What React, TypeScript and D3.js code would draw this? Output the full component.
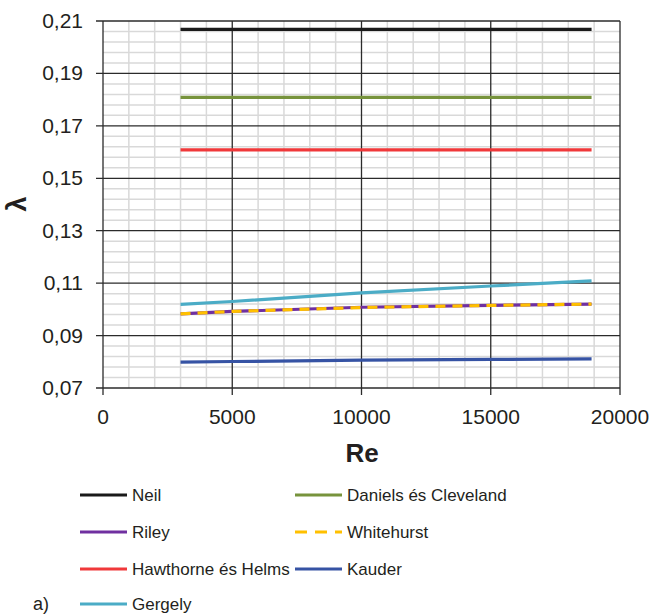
import React from 'react';
import * as d3 from 'd3';

// Re values
const reValues = [3000, 5000, 10000, 15000, 18900];

const neil = [0.2068, 0.2068, 0.2068, 0.2068, 0.2068];
const daniels = [0.1809, 0.1809, 0.1809, 0.1809, 0.1809];
const riley = [0.0983, 0.0992, 0.1008, 0.1015, 0.102];
const whitehurst = [0.0983, 0.0992, 0.1007, 0.1015, 0.102];
const hawthorne = [0.1608, 0.1608, 0.1608, 0.1608, 0.1608];
const kauder = [0.0799, 0.0801, 0.0806, 0.0809, 0.0811];
const gergely = [0.1019, 0.103, 0.1063, 0.1089, 0.1109];

const xTicks = [0, 5000, 10000, 15000, 20000];
const yTicks = [0.07, 0.09, 0.11, 0.13, 0.15, 0.17, 0.19, 0.21];

const series = [
  { name: 'Neil', values: neil, color: '#1a1a1a', dash: null },
  { name: 'Daniels és Cleveland', values: daniels, color: '#77933c', dash: null },
  { name: 'Riley', values: riley, color: '#7030a0', dash: null },
  { name: 'Whitehurst', values: whitehurst, color: '#ffc000', dash: '10,7' },
  { name: 'Hawthorne és Helms', values: hawthorne, color: '#f0383a', dash: null },
  { name: 'Kauder', values: kauder, color: '#3653a4', dash: null },
  { name: 'Gergely', values: gergely, color: '#4bacc6', dash: null },
];

const W = 654;
const H = 615;
const left = 103;
const right = 620;
const top = 21;
const bottom = 388;
const font = '"Liberation Sans", Arial, sans-serif';

export default function App() {
  const x = d3.scaleLinear().domain([0, 20000]).range([left, right]);
  const y = d3.scaleLinear().domain([0.07, 0.21]).range([bottom, top]);

  const fmt = (v: number) => v.toFixed(2).replace('.', ',');

  const minorX = d3.range(0, 20001, 1000).filter((v) => v % 5000 !== 0);
  const minorY = d3.range(0, 36).map((i) => 0.07 + i * 0.004).filter((v, i) => i % 5 !== 0 && v < 0.2101);

  const line = (vals: number[]) =>
    d3.line<number>().x((_, i) => x(reValues[i])).y((v) => y(v))(vals) || '';

  const legendRows = [
    [series[0], series[1]],
    [series[2], series[3]],
    [series[4], series[5]],
    [series[6]],
  ];
  const rowY = [495, 532, 569, 604];
  const colX = [80, 295];

  return (
    <div style={{ position: 'absolute', left: 0, top: 0 }}>
      <svg width={W} height={H} style={{ display: 'block', background: '#fff' }} fontFamily={font}>
        {/* minor grid */}
        {minorX.map((v) => (
          <line key={'mx' + v} x1={x(v)} x2={x(v)} y1={top} y2={bottom} stroke="#d9d9d9" strokeWidth={1.5} />
        ))}
        {minorY.map((v, i) => (
          <line key={'my' + i} x1={left} x2={right} y1={y(v)} y2={y(v)} stroke="#d9d9d9" strokeWidth={1.5} />
        ))}
        {/* major grid */}
        {xTicks.map((v) => (
          <line key={'Mx' + v} x1={x(v)} x2={x(v)} y1={top} y2={bottom + 7} stroke="#2b2b2b" strokeWidth={1.3} />
        ))}
        {yTicks.map((v) => (
          <line key={'My' + v} x1={left - 7} x2={right} y1={y(v)} y2={y(v)} stroke="#2b2b2b" strokeWidth={1.3} />
        ))}
        {/* tick labels */}
        {yTicks.map((v) => (
          <text key={'yl' + v} x={83} y={y(v) + 7} textAnchor="end" fontSize={21} fill="#231f20">
            {fmt(v)}
          </text>
        ))}
        {xTicks.map((v) => (
          <text key={'xl' + v} x={x(v)} y={424} textAnchor="middle" fontSize={21} fill="#231f20">
            {v}
          </text>
        ))}
        {/* axis titles */}
        <text x={362} y={462} textAnchor="middle" fontSize={26} fontWeight="bold" fill="#231f20">
          Re
        </text>
        <text
          transform="translate(26,204) rotate(-90)"
          textAnchor="middle"
          fontSize={27}
          fontWeight="bold"
          fill="#231f20"
        >
          λ
        </text>
        {/* series */}
        {series.map((s) => (
          <path
            key={s.name}
            d={line(s.values)}
            fill="none"
            stroke={s.color}
            strokeWidth={3.2}
            strokeDasharray={s.dash || undefined}
          />
        ))}
        {/* legend */}
        {legendRows.map((row, r) =>
          row.map((s, c) => (
            <g key={s.name}>
              <line
                x1={colX[c]}
                x2={colX[c] + 47}
                y1={rowY[r]}
                y2={rowY[r]}
                stroke={s.color}
                strokeWidth={3.2}
                strokeDasharray={s.dash ? '12,8' : undefined}
              />
              <text x={colX[c] + 52} y={rowY[r] + 6} fontSize={17} fill="#231f20">
                {s.name}
              </text>
            </g>
          ))
        )}
        <text x={33} y={610} fontSize={18} fill="#231f20">
          a)
        </text>
      </svg>
    </div>
  );
}
